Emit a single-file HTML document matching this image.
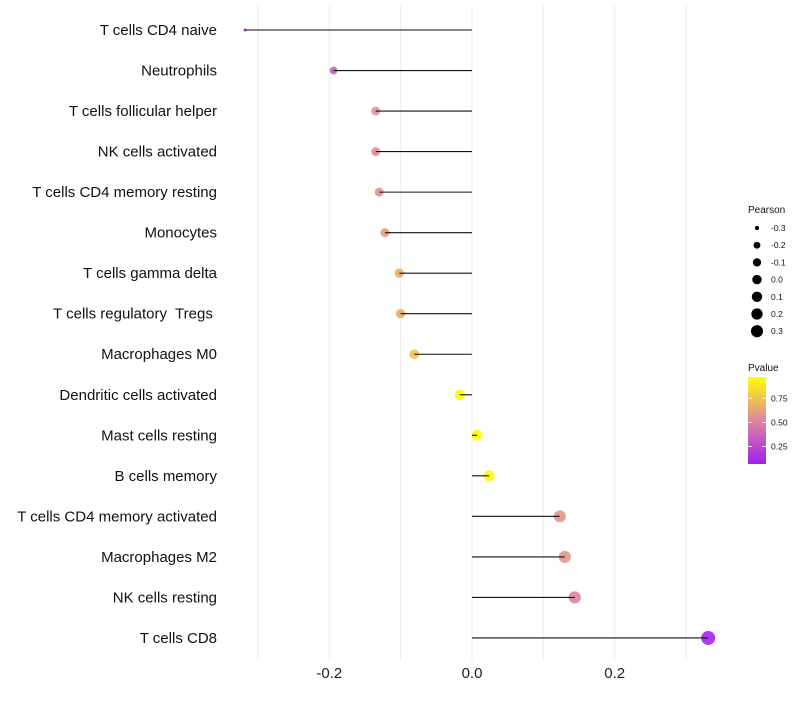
<!DOCTYPE html>
<html><head><meta charset="utf-8"><style>
body{margin:0;background:#fff;font-family:"Liberation Sans",sans-serif}
</style></head><body>
<svg id="c" width="800" height="700" xmlns="http://www.w3.org/2000/svg" font-family="Liberation Sans, sans-serif"></svg>
<script>
const categories=["T cells CD4 naive","Neutrophils","T cells follicular helper","NK cells activated","T cells CD4 memory resting","Monocytes","T cells gamma delta","T cells regulatory  Tregs ","Macrophages M0","Dendritic cells activated","Mast cells resting","B cells memory","T cells CD4 memory activated","Macrophages M2","NK cells resting","T cells CD8"];
const pearson=[-0.318,-0.194,-0.135,-0.135,-0.130,-0.122,-0.102,-0.100,-0.081,-0.017,0.007,0.024,0.123,0.130,0.144,0.331];
const pvalue=[0.08,0.35,0.55,0.55,0.56,0.60,0.67,0.67,0.75,0.96,0.98,0.94,0.58,0.57,0.52,0.09];
const xTicks=[-0.2,0,0.2];
const xTickLabels=["-0.2","0.0","0.2"];
const sizeLegend=[-0.3,-0.2,-0.1,0.0,0.1,0.2,0.3];
const colorTicks=[0.25,0.50,0.75];
const NS="http://www.w3.org/2000/svg",svg=document.getElementById('c');
function mk(t,a,p){const e=document.createElementNS(NS,t);for(const k in a)e.setAttribute(k,a[k]);(p||svg).appendChild(e);return e;}
const x=v=>472+v*713.5;
const y=i=>30+i*40.53;
const pmin=Math.min(...pearson),pmax=Math.max(...pearson);
const r=v=>{const t=Math.max(0,(v-pmin)/(pmax-pmin));return 1.5+5.5*Math.sqrt(t);};
function col(p){const t=Math.max(0,Math.min(1,(p-0.07)/0.9));
const s=[[160,32,240],[222,134,160],[255,255,0]];let a,b,u;
if(t<0.5){a=s[0];b=s[1];u=t/0.5}else{a=s[1];b=s[2];u=(t-0.5)/0.5}
return `rgb(${a.map((c,i)=>Math.round(c+(b[i]-c)*u)).join(',')})`;}
for(let g=-0.3;g<=0.31;g+=0.1){const l=mk('line',{x1:x(g),x2:x(g),y1:5,y2:660,stroke:'#ececec','stroke-width':1});

}
xTicks.forEach((t,i)=>{const e=mk('text',{x:x(t),y:678,'text-anchor':'middle','font-size':15,fill:'#222'});e.textContent=xTickLabels[i];

});
categories.forEach((c,i)=>{
const t=mk('text',{x:217,y:y(i)+5,'text-anchor':'end','font-size':15,fill:'#111','xml:space':'preserve',style:'white-space:pre'});t.textContent=c;


const d=mk('circle',{cx:x(pearson[i]),cy:y(i),r:r(pearson[i]),fill:col(pvalue[i]),'fill-opacity':0.9});


const l=mk('line',{x1:x(0),x2:x(pearson[i]),y1:y(i),y2:y(i),stroke:'#111','stroke-width':1.1});


});
const lt=mk('text',{x:748,y:213,'font-size':10,fill:'#111'});lt.textContent='Pearson';


sizeLegend.forEach((v,i)=>{const cy=228+i*17.2;
const d=mk('circle',{cx:757,cy:cy,r:r(v)*0.88,fill:'#000'});


const t=mk('text',{x:771,y:cy+3,'font-size':8.5,fill:'#111'});t.textContent=v.toFixed(1).replace('-0.0','0.0');

});
const ct=mk('text',{x:748,y:371,'font-size':10,fill:'#111'});ct.textContent='Pvalue';


const defs=mk('defs',{});const lg=mk('linearGradient',{id:'g',x1:0,y1:1,x2:0,y2:0},defs);
[[0,'#a020f0'],[0.5,'#de86a0'],[1,'#ffff00']].forEach(s=>mk('stop',{offset:s[0],'stop-color':s[1]},lg));
const bar=mk('rect',{x:748,y:377,width:18,height:87,fill:'url(#g)'});


const cy=v=>464-(v-0.07)/0.9*87;
colorTicks.forEach(v=>{mk('line',{x1:748,x2:752,y1:cy(v),y2:cy(v),stroke:'#fff','stroke-width':0.8});mk('line',{x1:762,x2:766,y1:cy(v),y2:cy(v),stroke:'#fff','stroke-width':0.8});
const t=mk('text',{x:771,y:cy(v)+3,'font-size':8.5,fill:'#111'});t.textContent=v.toFixed(2);

});
</script>
</body></html>
